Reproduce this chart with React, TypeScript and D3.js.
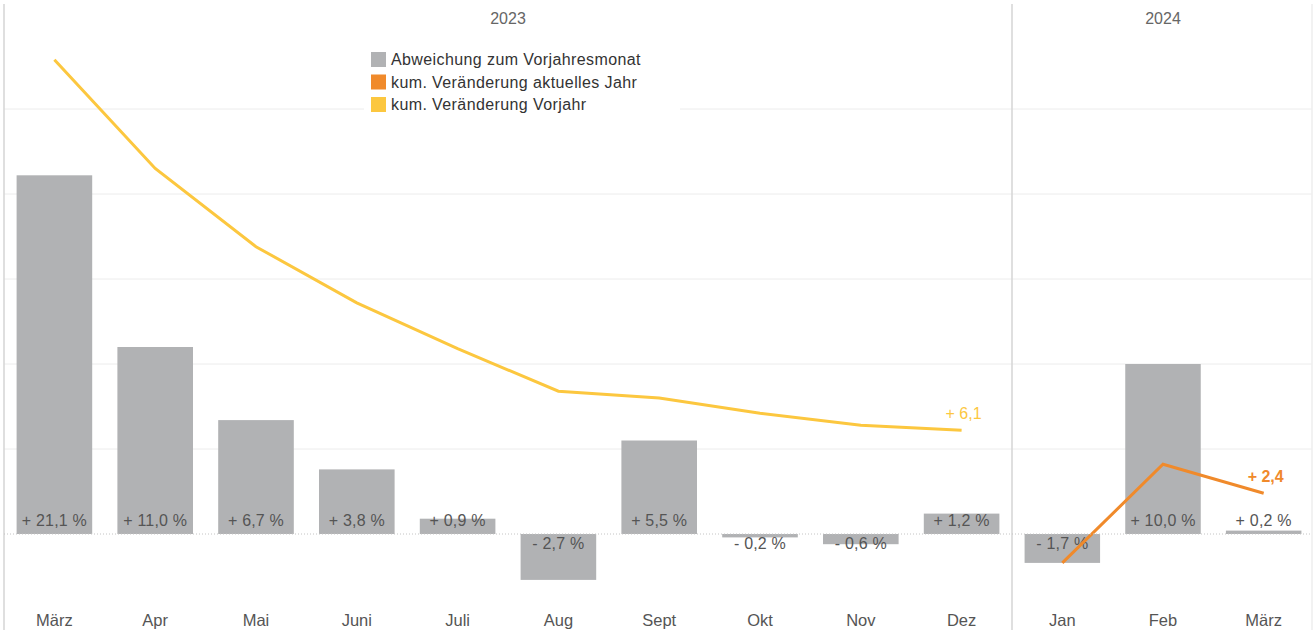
import React, { useEffect, useRef } from "react";
import * as d3 from "d3";

const months2023 = ["März", "Apr", "Mai", "Juni", "Juli", "Aug", "Sept", "Okt", "Nov", "Dez"];
const months2024 = ["Jan", "Feb", "März"];
const bars2023 = [21.1, 11.0, 6.7, 3.8, 0.9, -2.7, 5.5, -0.2, -0.6, 1.2];
const bars2024 = [-1.7, 10.0, 0.2];
const kumVorjahr = [27.9, 21.5, 16.9, 13.6, 10.9, 8.4, 8.0, 7.1, 6.4, 6.1];
const kumAktuell = [-1.7, 4.1, 2.4];
const gridTicks = [5, 10, 15, 20, 25];
const legendItems = [
  { label: "Abweichung zum Vorjahresmonat", color: "#b1b2b4" },
  { label: "kum. Veränderung aktuelles Jahr", color: "#f08a2b" },
  { label: "kum. Veränderung Vorjahr", color: "#fcc73f" },
];

const W = 1314, H = 630;
const FONT = "'Liberation Sans', Arial, sans-serif";

const fmt = (v: number) =>
  (v < 0 ? "- " : "+ ") + Math.abs(v).toFixed(1).replace(".", ",");

function App() {
  const ref = useRef<SVGSVGElement>(null);

  useEffect(() => {
    const svg = d3.select(ref.current);
    svg.selectAll("*").remove();

    const y = d3.scaleLinear().domain([0, 25]).range([534, 109]);

    // grid
    svg.append("g").selectAll("line").data(gridTicks).join("line")
      .attr("x1", 4).attr("x2", 1312)
      .attr("y1", d => y(d)).attr("y2", d => y(d))
      .attr("stroke", "#ececec").attr("stroke-width", 1);

    // panel lines
    svg.append("g").selectAll("line").data([4, 1012, 1312]).join("line")
      .attr("x1", d => d).attr("x2", d => d).attr("y1", 4).attr("y2", 630)
      .attr("stroke", (d, i) => (i === 2 ? "#eeeeee" : "#d4d4d4")).attr("stroke-width", 1.5);

    const panels = [
      { year: "2023", months: months2023, bars: bars2023, line: kumVorjahr, color: "#fcc73f", range: [4, 1012] as [number, number] },
      { year: "2024", months: months2024, bars: bars2024, line: kumAktuell, color: "#f08a2b", range: [1012, 1314] as [number, number] },
    ];

    panels.forEach(p => {
      const keys = p.months.map((m, i) => m + i);
      const x = d3.scaleBand<string>().domain(keys)
        .range(p.range).paddingInner(0.25).paddingOuter(0.125);
      const g = svg.append("g");

      g.append("text").attr("x", (p.range[0] + p.range[1]) / 2).attr("y", 24)
        .attr("text-anchor", "middle").attr("font-family", FONT).attr("font-size", 16)
        .attr("fill", "#666").text(p.year);

      g.selectAll("rect.bar").data(p.bars).join("rect").attr("class", "bar")
        .attr("x", (d, i) => x(keys[i])!).attr("width", x.bandwidth())
        .attr("y", d => y(Math.max(0, d))).attr("height", d => Math.max(Math.abs(y(d) - y(0)), 1.5))
        .attr("fill", "#b1b2b4");

      g.selectAll("text.val").data(p.bars).join("text").attr("class", "val")
        .attr("x", (d, i) => x(keys[i])! + x.bandwidth() / 2)
        .attr("y", d => (d < 0 ? y(0) + 15 : y(0) - 8))
        .attr("text-anchor", "middle").attr("font-family", FONT).attr("font-size", 16)
        .attr("letter-spacing", 0.2)
        .attr("fill", "#555").text(d => fmt(d) + " %");

      g.selectAll("text.month").data(p.months).join("text").attr("class", "month")
        .attr("x", (d, i) => x(keys[i])! + x.bandwidth() / 2).attr("y", 626)
        .attr("text-anchor", "middle").attr("font-family", FONT).attr("font-size", 16.5)
        .attr("fill", "#555").text(d => d);

      const line = d3.line<number>()
        .x((d, i) => x(keys[i])! + x.bandwidth() / 2).y(d => y(d));
      g.append("path").datum(p.line).attr("d", line).attr("fill", "none")
        .attr("stroke", p.color).attr("stroke-width", 3);

      const last = p.line.length - 1;
      g.append("text").attr("x", x(keys[last])! + x.bandwidth() / 2 + 20)
        .attr("y", y(p.line[last]) - 11).attr("text-anchor", "end")
        .attr("font-family", FONT).attr("font-size", 16)
        .attr("font-weight", p.year === "2024" ? "bold" : "normal")
        .attr("fill", p.color).text(fmt(p.line[last]));
    });

    // zero baseline
    svg.append("line").attr("x1", 4).attr("x2", 1312).attr("y1", y(0)).attr("y2", y(0))
      .attr("stroke", "#c4c4c4").attr("stroke-dasharray", "1,2");

    // legend
    const lg = svg.append("g");
    lg.append("rect").attr("x", 364).attr("y", 44).attr("width", 316).attr("height", 76).attr("fill", "#fff");
    const li = lg.selectAll("g").data(legendItems).join("g")
      .attr("transform", (d, i) => `translate(371, ${52 + i * 22.5})`);
    li.append("rect").attr("width", 15).attr("height", 15).attr("fill", d => d.color);
    li.append("text").attr("x", 20).attr("y", 13).attr("font-family", FONT).attr("font-size", 16)
      .attr("letter-spacing", 0.4)
      .attr("fill", "#333").text(d => d.label);
  }, []);

  return (
    <svg ref={ref} width={W} height={H}
      style={{ position: "absolute", left: 0, top: 0, background: "#fff" }} />
  );
}

export default App;
